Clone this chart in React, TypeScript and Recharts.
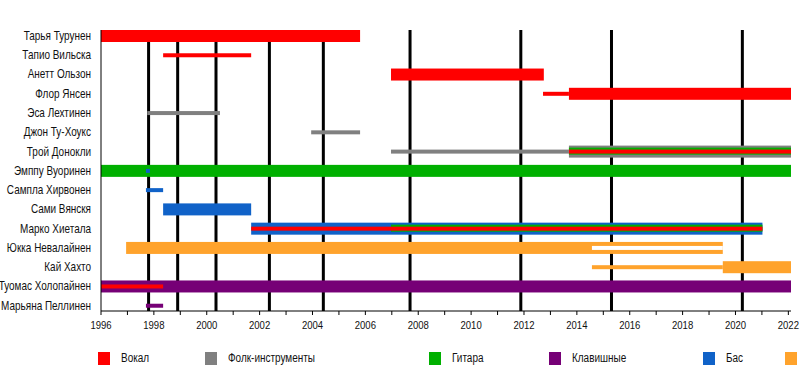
import React from 'react';
import { BarChart, Bar, XAxis, YAxis, ReferenceLine, Legend } from 'recharts';

const FONT = "'Liberation Sans', Arial, sans-serif";
const SQUEEZE = 0.83; // в оригинале текст сжат по горизонтали

// участники сверху вниз
const members = [
  'Тарья Турунен',
  'Тапио Вильска',
  'Анетт Ользон',
  'Флор Янсен',
  'Эса Лехтинен',
  'Джон Ту-Хоукс',
  'Трой Донокли',
  'Эмппу Вуоринен',
  'Сампла Хирвонен',
  'Сами Вянскя',
  'Марко Хиетала',
  'Юкка Невалайнен',
  'Кай Хахто',
  'Туомас Холопайнен',
  'Марьяна Пеллинен',
];

type Span = [string, string, number, number];

// основная роль (толстая полоса)
const thickSpans: Span[] = [
  ['Тарья Турунен', 'vocal', 1996, 2005.8],
  ['Анетт Ользон', 'vocal', 2006.97, 2012.75],
  ['Флор Янсен', 'vocal', 2013.7, 2022.1],
  ['Трой Донокли', 'folk', 2013.7, 2022.1],
  ['Эмппу Вуоринен', 'guitar', 1996, 2022.1],
  ['Сами Вянскя', 'bass', 1998.35, 2001.68],
  ['Марко Хиетала', 'bass', 2001.68, 2021.02],
  ['Юкка Невалайнен', 'drums', 1996.95, 2019.52],
  ['Кай Хахто', 'drums', 2019.52, 2022.1],
  ['Туомас Холопайнен', 'keys', 1996, 2022.1],
];

// средняя полоса
const midSpans: Span[] = [
  ['Трой Донокли', 'guitar', 2013.7, 2022.1],
  ['Марко Хиетала', 'guitar', 2006.97, 2021.02],
];

// тонкие полосы (сессионные / вторые роли)
const thinSpans: Span[] = [
  ['Тапио Вильска', 'vocal', 1998.35, 2001.68],
  ['Флор Янсен', 'vocal', 2012.72, 2013.7],
  ['Эса Лехтинен', 'folk', 1997.75, 2000.5],
  ['Джон Ту-Хоукс', 'folk', 2003.95, 2005.8],
  ['Трой Донокли', 'folk', 2006.97, 2013.7],
  ['Эмппу Вуоринен', 'bass', 1997.7, 1997.85],
  ['Сампла Хирвонен', 'bass', 1997.7, 1998.35],
  ['Марко Хиетала', 'vocal', 2001.68, 2021.02],
  ['Юкка Невалайнен', 'hiatus', 2014.57, 2019.52],
  ['Кай Хахто', 'drums', 2014.57, 2019.52],
  ['Туомас Холопайнен', 'vocal', 1996, 1998.35],
  ['Марьяна Пеллинен', 'keys', 1997.7, 1998.35],
];

const thinSpans2: Span[] = [
  ['Трой Донокли', 'vocal', 2013.7, 2022.1],
];

// выход альбомов
const albumReleases = [1997.8, 1998.9, 2000.35, 2002.37, 2004.41, 2007.69, 2011.88, 2015.31, 2020.26];

const yearTicks = [
  1996, 1997, 1998, 1999, 2000, 2001, 2002, 2003, 2004, 2005, 2006, 2007, 2008, 2009,
  2010, 2011, 2012, 2013, 2014, 2015, 2016, 2017, 2018, 2019, 2020, 2021, 2022,
];

const legendItems: [string, string][] = [
  ['Вокал', 'vocal'],
  ['Фолк-инструменты', 'folk'],
  ['Гитара', 'guitar'],
  ['Клавишные', 'keys'],
  ['Бас', 'bass'],
  ['Ударные', 'drums'],
];
const legendSlots = [107, 224, 120, 154, 82, 80];

const roleColors: Record<string, string> = {
  vocal: '#ff0000',
  folk: '#808080',
  guitar: '#00b000',
  keys: '#760076',
  bass: '#1062c8',
  drums: '#ffa32c',
  hiatus: '#ffffff',
};

const layers: Record<string, Span[]> = {
  thick: thickSpans,
  mid: midSpans,
  thin: thinSpans,
  thin2: thinSpans2,
};

const rows = members.map((name) => {
  const row: any = { name };
  Object.entries(layers).forEach(([key, spans]) => {
    const s = spans.find((x) => x[0] === name);
    row[key] = s ? [s[2], s[3]] : null;
    row[key + 'Role'] = s ? s[1] : null;
  });
  return row;
});

const spanShape = (key: string) => (props: any) => {
  const role = props.payload?.[key + 'Role'];
  if (!role || !(props.width > 0)) return <g />;
  return <rect x={props.x} y={props.y} width={props.width} height={props.height} fill={roleColors[role]} />;
};

const MemberTick = (props: any) => {
  const { x, y, payload } = props;
  return (
    <g transform={`translate(${x},${y})`}>
      <text transform={`scale(${SQUEEZE},1)`} textAnchor="end" dy="0.355em" fontSize={12} fontFamily={FONT} fill="#111">
        {payload.value}
      </text>
    </g>
  );
};

const YearTick = (props: any) => {
  const { x, y, payload } = props;
  if (payload.value % 2 !== 0) return <g />;
  return (
    <g transform={`translate(${x},${y})`}>
      <text transform={`scale(${SQUEEZE},1)`} textAnchor="middle" dy="0.71em" fontSize={11.5} fontFamily={FONT} fill="#111">
        {payload.value}
      </text>
    </g>
  );
};

const renderLegend = () => (
  <div style={{ display: 'flex', fontFamily: FONT, fontSize: 12, color: '#111', lineHeight: '13px' }}>
    {legendItems.map(([label, role], i) => (
      <div key={label} style={{ width: legendSlots[i], flex: 'none', display: 'flex', alignItems: 'center' }}>
        <span style={{ width: 12, height: 13, background: roleColors[role], marginRight: 11, flex: 'none' }} />
        <span style={{ whiteSpace: 'nowrap', display: 'inline-block', transform: `scaleX(${SQUEEZE})`, transformOrigin: 'left center' }}>
          {label}
        </span>
      </div>
    ))}
  </div>
);

const yPad = { top: -4, bottom: -4 };

export default function App() {
  return (
    <div style={{ position: 'absolute', left: 0, top: 0, width: 800, height: 370, overflow: 'hidden', fontFamily: FONT, background: '#fff' }}>
      <BarChart
        width={800}
        height={370}
        data={rows}
        layout="vertical"
        margin={{ top: 30, right: 9, left: 0, bottom: 29 }}
      >
        <XAxis
          type="number"
          domain={[1996, 2022.1]}
          allowDataOverflow
          ticks={yearTicks}
          interval={0}
          tickSize={4}
          tickMargin={6}
          stroke="#000"
          tick={<YearTick />}
          height={30}
        />
        <YAxis
          type="category"
          dataKey="name"
          width={101}
          interval={0}
          tickLine={false}
          tickSize={0}
          tickMargin={10}
          stroke="#000"
          padding={yPad}
          tick={<MemberTick />}
        />
        <YAxis yAxisId="mid" type="category" dataKey="name" hide padding={yPad} />
        <YAxis yAxisId="thin" type="category" dataKey="name" hide padding={yPad} />
        <YAxis yAxisId="thin2" type="category" dataKey="name" hide padding={yPad} />
        {albumReleases.map((x) => (
          <ReferenceLine key={x} x={x} stroke="#000" strokeWidth={3} zIndex={0} />
        ))}
        <Bar dataKey="thick" barSize={12} isAnimationActive={false} shape={spanShape('thick')} />
        <Bar dataKey="mid" yAxisId="mid" barSize={7} isAnimationActive={false} shape={spanShape('mid')} />
        <Bar dataKey="thin" yAxisId="thin" barSize={4} isAnimationActive={false} shape={spanShape('thin')} />
        <Bar dataKey="thin2" yAxisId="thin2" barSize={4} isAnimationActive={false} shape={spanShape('thin2')} />
        <Legend
          layout="horizontal"
          verticalAlign="middle"
          align="center"
          content={renderLegend}
          wrapperStyle={{ top: 352, left: 98, width: 'auto' }}
        />
      </BarChart>
    </div>
  );
}
